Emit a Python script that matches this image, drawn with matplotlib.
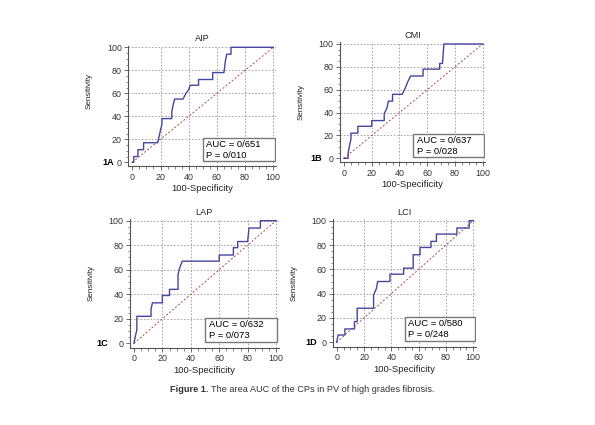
import matplotlib
matplotlib.use("Agg")
import matplotlib.pyplot as plt
from matplotlib.patches import Rectangle
from matplotlib.ticker import MultipleLocator

plt.rcParams['font.family'] = ['Liberation Sans', 'DejaVu Sans']

# --------------------
# DATA
# --------------------
aip_fpr = [0, 1, 1, 4, 4, 8, 8, 18, 20, 21, 21, 28, 28, 29, 30, 36, 38, 40, 41, 47, 47, 57, 57, 65, 66, 67, 70, 70, 100]
aip_sens = [0, 0, 5, 5, 11, 11, 17, 17, 28, 33, 38, 38, 44, 50, 55, 55, 60, 63, 67, 67, 72, 72, 78, 78, 88, 94, 94, 100, 100]

cmi_fpr = [0, 3, 3, 4, 5, 5, 10, 10, 20, 20, 29, 29, 31, 32, 35, 35, 42, 44, 46, 48, 57, 57, 69, 69, 71, 72, 100]
cmi_sens = [0, 0, 5, 11, 17, 22, 22, 28, 28, 33, 33, 39, 44, 50, 50, 56, 56, 61, 67, 72, 72, 78, 78, 83, 83, 100, 100]

lap_fpr = [0, 1, 2, 2, 12, 12, 13, 20, 20, 25, 25, 31, 31, 32, 34, 60, 60, 70, 70, 73, 73, 80, 81, 89, 89, 100]
lap_sens = [0, 6, 11, 22, 22, 28, 33, 33, 39, 39, 44, 44, 56, 61, 67, 67, 72, 72, 78, 78, 83, 83, 94, 94, 100, 100]

lci_fpr = [0, 1, 6, 6, 13, 13, 15, 15, 27, 27, 29, 30, 32, 39, 39, 49, 49, 56, 56, 61, 61, 69, 69, 73, 73, 88, 88, 97, 97, 100]
lci_sens = [0, 6, 6, 11, 11, 17, 17, 28, 28, 39, 44, 50, 50, 50, 56, 56, 61, 61, 72, 72, 78, 78, 83, 83, 89, 89, 94, 94, 100, 100]

titles = ['AIP', 'CMI', 'LAP', 'LCI']
panel_tags = ['1A', '1B', '1C', '1D']
auc_texts = ['AUC = 0/651', 'AUC = 0/637', 'AUC = 0/632', 'AUC = 0/580']
p_texts = ['P = 0/010', 'P = 0/028', 'P = 0/073', 'P = 0/248']
series = [(aip_fpr, aip_sens), (cmi_fpr, cmi_sens), (lap_fpr, lap_sens), (lci_fpr, lci_sens)]

# --------------------
# LAYOUT (pixel positions of data 0 and 100 on each axis)
# --------------------
W, H = 595, 425
XLIM = (-3, 102)
YLIM = (-3.5, 101.5)
anchors = [  # x0, x100, y0, y100 in pixels from top-left
    (132.3, 273.3, 162.3, 47.3),
    (344.0, 482.7, 158.3, 44.0),
    (134.0, 276.0, 343.3, 220.7),
    (336.7, 473.3, 342.3, 220.7),
]
tag_offsets = [14, 18, 22, 16]      # px left of the spine
ylabel_y = [0.62, 0.5, 0.5, 0.5]

CURVE = '#4646a0'
GRID = '#999999'

fig = plt.figure(figsize=(W / 100, H / 100), dpi=100)

for i in range(4):
    x0, x100, y0, y100 = anchors[i]
    sx = (x100 - x0) / 100
    sy = (y0 - y100) / 100
    left = x0 + XLIM[0] * sx
    right = x0 + XLIM[1] * sx
    top = y0 - YLIM[1] * sy
    bottom = y0 - YLIM[0] * sy
    ax = fig.add_axes([left / W, 1 - bottom / H, (right - left) / W, (bottom - top) / H])
    ax.set_xlim(*XLIM)
    ax.set_ylim(*YLIM)

    for s in ['top', 'right']:
        ax.spines[s].set_visible(False)
    for s in ['left', 'bottom']:
        ax.spines[s].set_color('#555555')
        ax.spines[s].set_linewidth(0.8)

    ax.xaxis.set_major_locator(MultipleLocator(20))
    ax.yaxis.set_major_locator(MultipleLocator(20))
    ax.xaxis.set_minor_locator(MultipleLocator(5))
    ax.yaxis.set_minor_locator(MultipleLocator(5))
    ax.tick_params(which='major', length=3, width=0.6, color='#555555',
                   labelsize=6.4, labelcolor='#333333', pad=1.5)
    ax.tick_params(which='minor', length=1.8, width=0.5, color='#555555')

    # dotted grid at 20..100
    for v in range(20, 101, 20):
        ax.axhline(v, color=GRID, lw=0.6, ls=(0, (2, 2)), zorder=0)
        ax.axvline(v, color=GRID, lw=0.6, ls=(0, (2, 2)), zorder=0)

    # reference diagonal
    ax.plot([0, 100], [0, 100], color='#b04848', lw=0.7, ls=(0, (2, 2)), zorder=1)

    fpr, sens = series[i]
    ax.plot(fpr, sens, color=CURVE, lw=1.0, zorder=2)

    ax.set_title(titles[i], fontsize=6.6, pad=3, color='#222222')
    ax.set_xlabel('100-Specificity', fontsize=6.8, labelpad=2, color='#222222')
    ax.set_ylabel('Sensitivity', fontsize=5.8, color='#222222')
    ax.yaxis.set_label_coords(-35 / (right - left), ylabel_y[i])

    ax.annotate(panel_tags[i], xy=(0, 0), xycoords=('axes fraction', 'data'),
                xytext=(-tag_offsets[i] * 0.72, 0), textcoords='offset points',
                ha='right', va='center', fontsize=6.5, fontweight='bold')

    # AUC box
    ax.add_patch(Rectangle((50, 1), 51, 20, facecolor='white', edgecolor='#7a7a7a',
                           lw=1.0, zorder=3))
    ax.text(52.5, 15.5, auc_texts[i], fontsize=6.8, va='center', zorder=4)
    ax.text(52.5, 6.3, p_texts[i], fontsize=6.8, va='center', zorder=4)

fig.text(208 / W, 1 - 390 / H, 'Figure 1.', fontsize=6.6, fontweight='bold',
         va='center', ha='right', color='#333333')
fig.text(211 / W, 1 - 390 / H, 'The area AUC of the CPs in PV of high grades fibrosis.',
         fontsize=6.6, va='center', ha='left', color='#333333')

fig.savefig('out.png', dpi=100, facecolor='white')
